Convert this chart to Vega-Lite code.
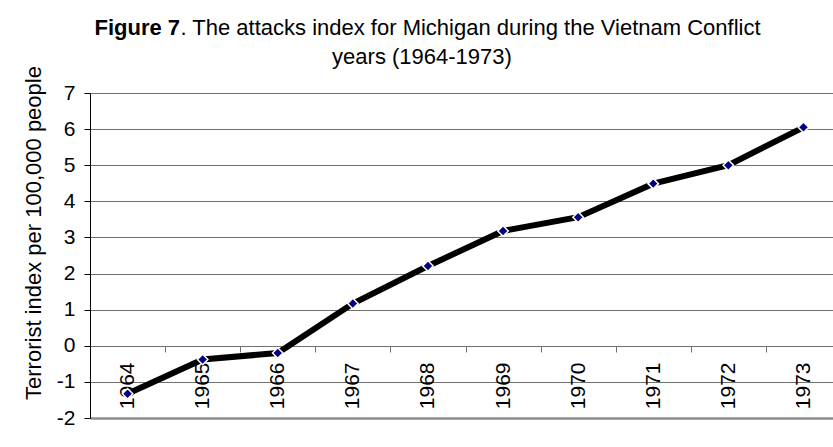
{
  "$schema": "https://vega.github.io/schema/vega-lite/v6.json",
  "width": 743,
  "height": 325,
  "autosize": "none",
  "padding": {"left": 90, "top": 93, "right": 0, "bottom": 29},
  "background": "white",
  "config": {"font": "Liberation Sans", "view": {"stroke": null}},
  "data": {
    "values": [
      {"year": "1964", "value": -1.33},
      {"year": "1965", "value": -0.38},
      {"year": "1966", "value": -0.2},
      {"year": "1967", "value": 1.17},
      {"year": "1968", "value": 2.21},
      {"year": "1969", "value": 3.18},
      {"year": "1970", "value": 3.56},
      {"year": "1971", "value": 4.49},
      {"year": "1972", "value": 5.0},
      {"year": "1973", "value": 6.05}
    ]
  },
  "layer": [
    {
      "mark": {"type": "line", "color": "black", "strokeWidth": 6},
      "encoding": {
        "x": {
          "field": "year",
          "type": "ordinal",
          "scale": {"type": "band", "paddingInner": 0, "paddingOuter": 0, "range": [0, 751]},
          "axis": {
            "orient": "bottom",
            "offset": -72,
            "tickBand": "extent",
            "labelAngle": -90,
            "labelFontSize": 21,
            "labelColor": "black",
            "labelPadding": 10,
            "tickSize": 6,
            "tickColor": "#707070",
            "domainColor": "#707070",
            "grid": false,
            "title": "Figure 7",
            "titleFontSize": 22,
            "titleFontWeight": "bold",
            "titleColor": "black",
            "titleX": 4,
            "titleY": -312,
            "titleAlign": "left",
            "titleBaseline": "alphabetic",
            "titleAngle": 0
          }
        },
        "y": {
          "field": "value",
          "type": "quantitative",
          "scale": {"domain": [-2, 7], "nice": false, "zero": false},
          "axis": {
            "values": [-2, -1, 0, 1, 2, 3, 4, 5, 6, 7],
            "labelExpr": "datum.value < 0 ? '-' + abs(datum.value) : '' + datum.value",
            "grid": true,
            "gridColor": {"condition": {"test": "datum.value === -2", "value": "#8c8c8c"}, "value": "#707070"},
            "gridWidth": {"condition": {"test": "datum.value === -2", "value": 2.5}, "value": 1},
            "domainColor": "black",
            "tickColor": "black",
            "tickSize": 6,
            "labelFontSize": 21,
            "labelPadding": 9,
            "labelColor": "black",
            "title": "Terrorist index per 100,000 people",
            "titleFontSize": 22,
            "titleFontWeight": "normal",
            "titleColor": "black",
            "titleX": -50,
            "titleY": 139.5,
            "titleAlign": "center",
            "titleBaseline": "alphabetic",
            "titleAngle": -90
          }
        }
      }
    },
    {
      "mark": {"type": "point", "shape": "diamond", "filled": true, "fill": "#000080", "stroke": "white", "strokeWidth": 1.5, "size": 110, "opacity": 1},
      "encoding": {
        "x": {
          "field": "year",
          "type": "ordinal",
          "axis": {
            "orient": "top",
            "domain": false,
            "ticks": false,
            "labels": false,
            "grid": false,
            "title": ". The attacks index for Michigan during the Vietnam Conflict",
            "titleFontSize": 22,
            "titleFontWeight": "normal",
            "titleColor": "black",
            "titleX": 90,
            "titleY": -59,
            "titleAlign": "left",
            "titleBaseline": "alphabetic",
            "titleAngle": 0
          }
        },
        "y": {
          "field": "value",
          "type": "quantitative",
          "axis": {
            "orient": "right",
            "domain": false,
            "ticks": false,
            "labels": false,
            "grid": false,
            "title": "years (1964-1973)",
            "titleFontSize": 22,
            "titleFontWeight": "normal",
            "titleColor": "black",
            "titleX": -411.5,
            "titleY": -30,
            "titleAlign": "center",
            "titleBaseline": "alphabetic",
            "titleAngle": 0
          }
        }
      }
    }
  ],
  "resolve": {"axis": {"x": "independent", "y": "independent"}}
}
